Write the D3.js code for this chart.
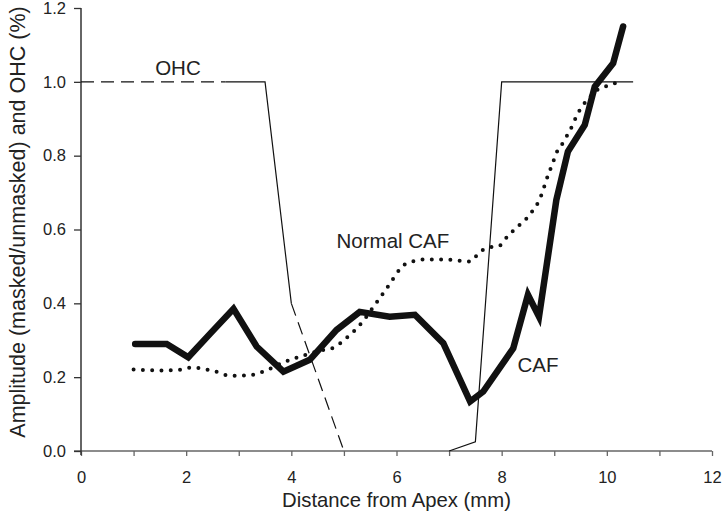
<!DOCTYPE html>
<html lang="en">
<head>
    <meta charset="UTF-8">
    <title>CAF vs OHC</title>
    <script src="https://d3js.org/d3.v7.min.js"></script>
    <style>
        body { margin: 0; background: #fff; }
        text { font-family: "Liberation Sans", Arial, sans-serif; fill: #222; }
    </style>
</head>
<body>
    <script>
        // CAF (thick solid line)
        const cafX = [1.03, 1.63, 2.04, 2.47, 2.90, 3.34, 3.85, 4.35, 4.86, 5.30, 5.87, 6.35,
                      6.89, 7.40, 7.65, 8.22, 8.50, 8.71, 9.04, 9.26, 9.58, 9.77, 10.12, 10.31];
        const cafY = [0.29, 0.29, 0.254, 0.32, 0.385, 0.283, 0.215, 0.247, 0.328, 0.377, 0.364, 0.369,
                      0.292, 0.134, 0.161, 0.278, 0.423, 0.364, 0.68, 0.811, 0.883, 0.987, 1.05, 1.15];

        // Normal CAF (dotted)
        const normX = [1.0, 1.56, 1.93, 2.10, 2.45, 2.64, 2.82, 3.18, 3.34, 3.53, 3.88, 4.26, 4.61,
                       4.77, 5.08, 5.30, 5.56, 5.81, 6.19, 6.57, 6.89, 7.40, 7.59, 7.78, 7.95, 8.11,
                       8.28, 8.46, 8.60, 8.71, 8.78, 8.84, 8.90, 8.97, 9.03, 9.14, 9.25, 9.34, 9.42,
                       9.52, 9.66, 9.82, 10.01, 10.19];
        const normY = [0.221, 0.218, 0.221, 0.226, 0.219, 0.212, 0.204, 0.205, 0.209, 0.219, 0.242, 0.26, 0.274,
                       0.278, 0.31, 0.341, 0.39, 0.44, 0.508, 0.519, 0.519, 0.513, 0.54, 0.552, 0.555, 0.581,
                       0.605, 0.628, 0.653, 0.678, 0.703, 0.73, 0.754, 0.779, 0.804, 0.829, 0.856, 0.88, 0.906,
                       0.931, 0.956, 0.978, 0.989, 0.998];

        // OHC (thin line)
        const ohcX = [0, 2.75, 3.5, 4.0, 5.0, 7.0, 7.5, 8.0, 10.5];
        const ohcY = [1.0, 1.0, 1.0, 0.4, 0.0, 0.0, 0.025, 1.0, 1.0];

        const xTicks = [0, 1, 2, 3, 4, 5, 6, 7, 8, 9, 10, 11, 12];
        const xLabels = [0, 2, 4, 6, 8, 10, 12];
        const yTicks = [0.0, 0.2, 0.4, 0.6, 0.8, 1.0, 1.2];

        const w = 724;
        const h = 514;
        const plotL = 81, plotR = 712, plotT = 8, plotB = 451;

        const x = d3.scaleLinear().domain([0, 12]).range([plotL, plotR]);
        const y = d3.scaleLinear().domain([0, 1.2]).range([plotB, plotT]);

        const svg = d3.select("body")
            .append("svg")
            .attr("width", w)
            .attr("height", h);

        // axes
        const xAxis = d3.axisBottom(x)
            .tickValues(xTicks)
            .tickSize(5)
            .tickSizeOuter(0)
            .tickPadding(15)
            .tickFormat(d => xLabels.includes(d) ? d : "");
        const gx = svg.append("g")
            .attr("transform", "translate(0," + plotB + ")")
            .call(xAxis);
        gx.select(".domain").attr("stroke", "#666").attr("stroke-width", 1.5)
            .attr("d", "M" + (plotL - 7) + ",0H" + plotR);
        gx.selectAll(".tick line").attr("stroke", "#666").attr("stroke-width", 1.3);
        gx.selectAll(".tick text")
            .style("font-size", "16.5px")
            .attr("fill", "#222");

        const yAxis = d3.axisLeft(y)
            .tickValues(yTicks)
            .tickSize(7)
            .tickSizeOuter(0)
            .tickPadding(8)
            .tickFormat(d3.format(".1f"));
        const gy = svg.append("g")
            .attr("transform", "translate(" + plotL + ",0)")
            .call(yAxis);
        gy.select(".domain").attr("stroke", "#333").attr("stroke-width", 1.5)
            .attr("d", "M0," + (plotB + 4) + "V" + plotT);
        gy.selectAll(".tick line").attr("stroke", "#333").attr("stroke-width", 1.3);
        gy.selectAll(".tick text")
            .style("font-size", "16.5px")
            .attr("fill", "#222");

        // OHC line pieces
        const ohc = ohcX.map((d, i) => [d, ohcY[i]]);
        const line = d3.line().x(d => x(d[0])).y(d => y(d[1]));
        const pieces = [
            { pts: ohc.slice(0, 2), dash: "13,7" },
            { pts: ohc.slice(1, 4), dash: null },
            { pts: ohc.slice(3, 5), dash: "13,7" },
            { pts: ohc.slice(5, 9), dash: null }
        ];
        svg.selectAll("path.ohc")
            .data(pieces)
            .enter()
            .append("path")
            .attr("class", "ohc")
            .attr("d", d => line(d.pts))
            .attr("fill", "none")
            .attr("stroke", "#111")
            .attr("stroke-width", 1.2)
            .attr("stroke-dasharray", d => d.dash);

        // Normal CAF dotted
        const norm = normX.map((d, i) => [d, normY[i]]);
        svg.append("path")
            .attr("d", d3.line().x(d => x(d[0])).y(d => y(d[1])).curve(d3.curveMonotoneX)(norm))
            .attr("fill", "none")
            .attr("stroke", "#111")
            .attr("stroke-width", 4)
            .attr("stroke-linecap", "round")
            .attr("stroke-dasharray", "0,9.3");

        // CAF thick line
        const caf = cafX.map((d, i) => [d, cafY[i]]);
        svg.append("path")
            .attr("d", line(caf))
            .attr("fill", "none")
            .attr("stroke", "#111")
            .attr("stroke-width", 6.5)
            .attr("stroke-linejoin", "miter")
            .attr("stroke-linecap", "round");

        // labels
        const labels = [
            { t: "OHC", x: 1.41, y: 1.019 },
            { t: "Normal CAF", x: 4.86, y: 0.55 },
            { t: "CAF", x: 8.30, y: 0.215 }
        ];
        svg.selectAll("text.lab")
            .data(labels)
            .enter()
            .append("text")
            .attr("class", "lab")
            .attr("x", d => x(d.x))
            .attr("y", d => y(d.y))
            .style("font-size", "20.5px")
            .text(d => d.t);

        // axis titles
        svg.append("text")
            .attr("x", (plotL + plotR) / 2)
            .attr("y", 507)
            .attr("text-anchor", "middle")
            .style("font-size", "20.3px")
            .text("Distance from Apex (mm)");

        svg.append("text")
            .attr("transform", "translate(25,222) rotate(-90)")
            .attr("text-anchor", "middle")
            .style("font-size", "21.5px")
            .text("Amplitude (masked/unmasked) and OHC (%)");
    </script>
</body>
</html>
